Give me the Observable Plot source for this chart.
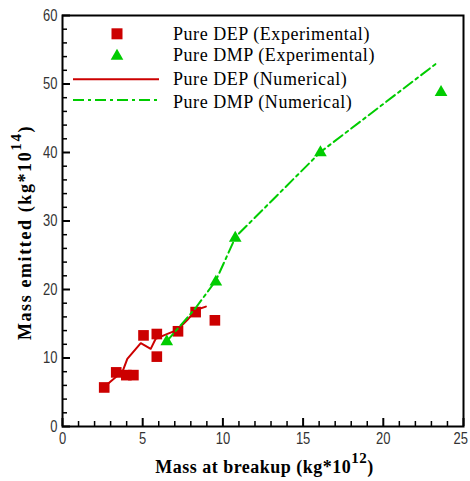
<!DOCTYPE html>
<html><head><meta charset="utf-8">
<script src="https://cdn.jsdelivr.net/npm/d3@7"></script>
<script src="https://cdn.jsdelivr.net/npm/@observablehq/plot@0.6"></script>
<style>
body{margin:0;background:#fff}
</style>
</head><body><div id="chart"></div>
<script>
// Pure DEP (Experimental)
const depExpMass    = [2.6, 3.35, 3.98, 4.42, 5.05, 5.88, 5.88, 7.2, 8.3, 9.5];
const depExpEmitted = [5.7, 7.9, 7.5, 7.5, 13.3, 13.5, 10.2, 13.9, 16.7, 15.5];
// Pure DMP (Experimental)
const dmpExpMass    = [6.5, 9.56, 10.77, 16.08, 23.6];
const dmpExpEmitted = [12.4, 21.1, 27.5, 40.0, 48.8];
// Pure DEP (Numerical)
const depNumMass    = [2.58, 3.31, 3.73, 4.04, 4.88, 5.5, 5.81, 6.54, 7.17, 7.79, 8.31, 8.94];
const depNumEmitted = [5.74, 7.2, 7.93, 9.88, 12.16, 11.34, 12.8, 13.53, 14.1, 15.58, 17.0, 17.5];
// Pure DMP (Numerical)
const dmpNumMass    = [6.45, 8.3, 9.56, 10.8, 16.1, 23.42];
const dmpNumEmitted = [12.3, 17.3, 21.3, 27.7, 40.1, 53.2];

const xMajorTicks = [0, 5, 10, 15, 20, 25];
const xMinorTicks = [1,2,3,4,6,7,8,9,11,12,13,14,16,17,18,19,21,22,23,24];
const yMajorTicks = [0, 10, 20, 30, 40, 50, 60];
const yMinorTicks = [2,4,6,8,12,14,16,18,22,24,26,28,32,34,36,38,42,44,46,48,52,54,56,58];

const legendLabels = ["Pure DEP (Experimental)", "Pure DMP (Experimental)", "Pure DEP (Numerical)", "Pure DMP (Numerical)"];
const xTitle = "Mass at breakup (kg*10", xSup = "12";
const yTitle = "Mass emitted (kg*10", ySup = "14";

const zip = (xs, ys) => xs.map((x, i) => ({x, y: ys[i]}));
const depExp = zip(depExpMass, depExpEmitted);
const dmpExp = zip(dmpExpMass, dmpExpEmitted);
const depNum = zip(depNumMass, depNumEmitted);
const dmpNum = zip(dmpNumMass, dmpNumEmitted);

const W = 470, H = 481, mL = 62, mR = 7, mT = 15, mB = 55;
const pw = W - mL - mR, ph = H - mT - mB;
const red = "#cc0000", green = "#00cc00";
const dash = "11,4,3,4";
const tickFont = "'Liberation Sans', Arial, sans-serif";

const chart = Plot.plot({
  width: W, height: H,
  marginLeft: mL, marginRight: mR, marginTop: mT, marginBottom: mB,
  style: {background: "#fff", overflow: "visible", fontFamily: tickFont, fontSize: "16px"},
  x: {domain: [0, 25]},
  y: {domain: [0, 60]},
  marks: [
    Plot.ruleX(xMajorTicks, {insetTop: ph - 8, stroke: "#000", strokeWidth: 2}),
    Plot.ruleX(xMinorTicks, {insetTop: ph - 5, stroke: "#000", strokeWidth: 1.5}),
    Plot.ruleY(yMajorTicks, {insetRight: pw - 8, stroke: "#000", strokeWidth: 2}),
    Plot.ruleY(yMinorTicks, {insetRight: pw - 5, stroke: "#000", strokeWidth: 1.5}),
    Plot.axisX({ticks: xMajorTicks, tickSize: 0, tickPadding: 6, label: null, fontSize: 16, fill: "#333"}),
    Plot.axisY({ticks: yMajorTicks, tickSize: 0, tickPadding: 5, label: null, fontSize: 16, fill: "#333"}),
    Plot.dot(depExp, {x: "x", y: "y", symbol: "square", r: 6, fill: red, stroke: "none"}),
    Plot.line(depNum, {x: "x", y: "y", stroke: red, strokeWidth: 2}),
    Plot.dot(dmpExp, {x: "x", y: "y", symbol: "triangle", r: 4.7, fill: green, stroke: "none"}),
    Plot.line(dmpNum, {x: "x", y: "y", stroke: green, strokeWidth: 2, strokeDasharray: dash}),
    Plot.frame({stroke: "#000", strokeWidth: 2})
  ]
});
document.getElementById("chart").appendChild(chart);

const svg = d3.select(chart);
// narrow tick digits like the reference; keep the last x label inside the picture
svg.selectAll("g[aria-label$='tick label'] text").each(function () {
  const n = this.textContent.length;
  this.setAttribute("textLength", n * 7.2);
  this.setAttribute("lengthAdjust", "spacingAndGlyphs");
  const b = this.getBoundingClientRect();
  if (b.right > W - 2) this.setAttribute("dx", -(b.right - (W - 2)));
});

const serif = "'Liberation Serif', 'Times New Roman', serif";

// Legend
const lg = svg.append("g").attr("font-family", serif).attr("font-size", 18)
  .attr("letter-spacing", "0.55px").attr("text-anchor", "start");
const rows = [
  {cy: 33.8, base: 40, kind: "square", color: red},
  {cy: 56, base: 61, kind: "triangle", color: green},
  {cy: 79.3, base: 85, kind: "line", color: red},
  {cy: 100, base: 107.5, kind: "dash", color: green}
];
rows.forEach((r, i) => {
  if (r.kind === "square") {
    lg.append("rect").attr("x", 117 - 5.5).attr("y", r.cy - 5.5).attr("width", 11).attr("height", 11).attr("fill", r.color);
  } else if (r.kind === "triangle") {
    lg.append("path").attr("d", d3.symbol(d3.symbolTriangle, 4.7 * 4.7 * Math.PI)()).attr("transform", `translate(117,${r.cy})`).attr("fill", r.color);
  } else {
    lg.append("line").attr("x1", 73).attr("x2", 159).attr("y1", r.cy).attr("y2", r.cy)
      .attr("stroke", r.color).attr("stroke-width", 2).attr("stroke-dasharray", r.kind === "dash" ? dash : null);
  }
  lg.append("text").attr("x", 173).attr("y", r.base).attr("fill", "#000").text(legendLabels[i]);
});

// Axis titles
const xt = svg.append("text").attr("x", mL + pw / 2 + 2).attr("y", 473).attr("text-anchor", "middle")
  .attr("font-family", serif).attr("font-weight", "bold").attr("font-size", 18).attr("fill", "#000")
  .attr("letter-spacing", "0.5px");
xt.append("tspan").text(xTitle);
xt.append("tspan").attr("dy", -10).attr("font-size", 15).text(xSup);
xt.append("tspan").attr("dy", 10).text(")");

const yt = svg.append("text").attr("transform", `translate(31,${mT + ph / 2 + 12}) rotate(-90)`).attr("text-anchor", "middle")
  .attr("font-family", serif).attr("font-weight", "bold").attr("font-size", 18).attr("fill", "#000").attr("letter-spacing", "1.6px");
yt.append("tspan").text(yTitle);
yt.append("tspan").attr("dy", -10).attr("font-size", 15).text(ySup);
yt.append("tspan").attr("dy", 10).text(")");
</script>
</body></html>
